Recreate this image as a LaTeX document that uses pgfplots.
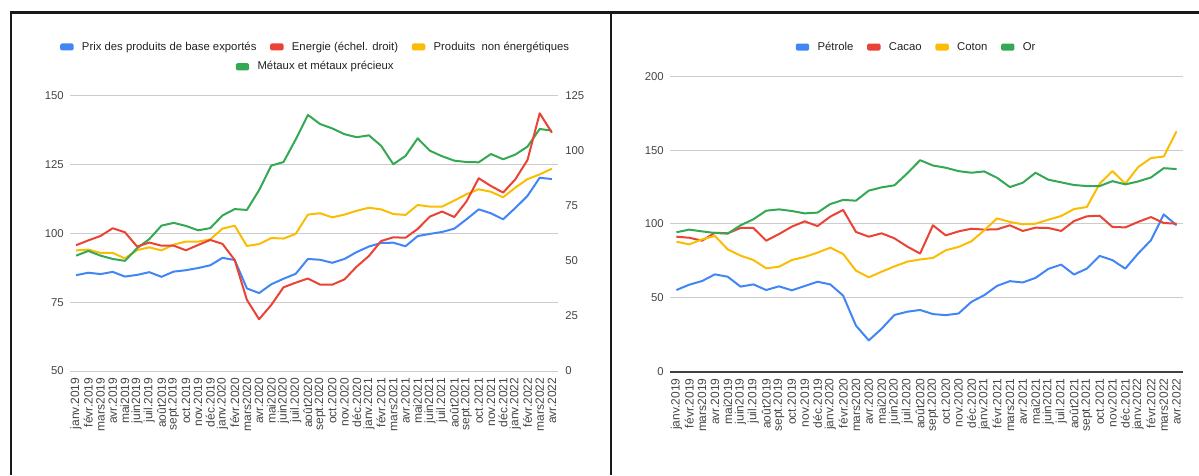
\documentclass[border=0pt]{standalone}
\usepackage{fontspec}
\setmainfont{Liberation Sans}
\usepackage{pgfplots}
\pgfplotsset{compat=1.18}
\usepackage{pgfplotstable}

\definecolor{gblue}{HTML}{4285F4}
\definecolor{gred}{HTML}{EA4335}
\definecolor{gyellow}{HTML}{FBBC04}
\definecolor{ggreen}{HTML}{34A853}
\definecolor{gridc}{HTML}{CCCCCC}
\definecolor{tickc}{HTML}{444444}
\definecolor{legc}{HTML}{222222}

\pgfplotstableread{
i prix energie produits metaux
0 84.8 57.1 93.8 91.9
1 85.7 59.3 94.1 93.6
2 85.2 61.3 92.9 91.9
3 86.0 64.8 92.9 90.7
4 84.3 63.0 90.9 90.0
5 84.9 56.5 93.9 94.6
6 85.9 58.3 94.9 97.9
7 84.2 56.9 93.8 102.8
8 86.1 56.9 95.9 103.8
9 86.6 54.8 97.0 102.7
10 87.4 57.2 97.0 101.1
11 88.4 59.5 97.8 101.9
12 91.1 57.7 101.7 106.5
13 90.3 50.4 102.8 108.8
14 80.0 32.3 95.4 108.5
15 78.3 23.5 96.1 115.7
16 81.5 30.0 98.3 124.6
17 83.5 38.0 98.1 125.9
18 85.3 40.1 99.8 134.1
19 90.7 42.0 106.8 143.0
20 90.4 39.2 107.3 139.7
21 89.3 39.2 105.8 138.1
22 90.7 41.6 106.8 136.0
23 93.2 47.4 108.2 134.9
24 95.2 52.2 109.3 135.6
25 96.5 59.0 108.7 131.8
26 96.6 60.7 107.0 125.1
27 95.3 60.5 106.7 128.1
28 99.0 64.5 110.3 134.5
29 99.8 70.1 109.7 130.0
30 100.5 72.4 109.7 128.0
31 101.7 69.9 111.9 126.4
32 105.1 77.0 114.2 125.9
33 108.7 87.5 116.0 125.8
34 107.3 84.0 115.1 128.8
35 105.1 81.0 113.1 126.9
36 109.2 87.0 116.6 128.6
37 113.6 95.8 119.7 131.5
38 120.2 117.0 121.4 137.9
39 119.7 108.2 123.5 137.3
}\lefttab

\pgfplotstableread{
i petrole cacao coton or
0 55.3 91.4 88.0 94.4
1 58.9 90.7 86.2 96.2
2 61.4 88.7 89.6 95.0
3 65.9 94.1 91.9 93.9
4 64.3 93.7 82.8 93.5
5 57.6 97.3 78.6 99.1
6 59.1 97.3 75.6 103.2
7 55.3 88.7 70.0 109.0
8 57.8 93.2 71.1 109.9
9 55.1 98.2 75.6 108.8
10 58.0 101.8 77.7 107.2
11 60.9 98.6 80.6 107.7
12 59.1 105.0 84.0 113.5
13 51.5 109.5 79.7 116.3
14 31.2 94.6 68.4 115.8
15 21.2 91.4 63.9 122.6
16 29.1 93.7 67.7 124.8
17 38.4 90.3 71.3 126.2
18 40.6 84.7 74.5 134.3
19 41.8 80.0 76.0 143.2
20 39.0 99.1 77.0 139.6
21 38.3 92.3 82.2 138.1
22 39.4 95.0 84.5 135.8
23 47.3 96.8 88.3 134.7
24 51.8 96.2 95.7 135.6
25 58.1 96.4 103.8 131.3
26 61.3 99.1 101.4 125.0
27 60.4 95.3 99.8 127.9
28 63.5 97.5 100.2 134.7
29 69.6 97.3 102.9 130.0
30 72.5 95.3 105.4 128.2
31 65.8 102.0 110.1 126.4
32 69.8 105.2 111.5 125.7
33 78.4 105.6 127.3 125.7
34 75.5 98.0 135.8 129.0
35 69.8 97.7 127.3 126.8
36 80.0 101.4 138.5 128.8
37 89.0 104.7 144.6 131.5
38 106.5 100.7 145.7 137.8
39 99.1 100.2 162.8 137.2
}\righttab

\pgfplotsset{
  common/.style={
    scale only axis,
    xmin=-0.5, xmax=39.5,
    xtick={0,...,39},
    xticklabels={janv.2019,févr.2019,mars2019,avr.2019,mai2019,juin2019,juil.2019,août2019,sept.2019,oct.2019,nov.2019,déc.2019,
                 janv.2020,févr.2020,mars2020,avr.2020,mai2020,juin2020,juil.2020,août2020,sept.2020,oct.2020,nov.2020,déc.2020,
                 janv.2021,févr.2021,mars2021,avr.2021,mai2021,juin2021,juil.2021,août2021,sept.2021,oct.2021,nov.2021,déc.2021,
                 janv.2022,févr.2022,mars2022,avr.2022},
    x tick label style={rotate=90, anchor=east, inner sep=0pt, font=\fontsize{9}{9}\selectfont, text=tickc},
    xticklabel shift=5pt,
    major tick length=0pt,
    tick style={draw=none},
    y tick label style={font=\fontsize{8.5}{9}\selectfont, text=tickc, inner sep=0pt},
    /pgf/number format/assume math mode=true,
    grid style={gridc, line width=0.75pt},
    legend image code/.code={\fill[rounded corners=0.6pt] (0pt,-1.9pt) rectangle (8.5pt,1.9pt);},
    legend style={draw=none, fill=none, font=\fontsize{8.5}{10}\selectfont, text=legc,
      nodes={inner xsep=6.3pt, inner ysep=1pt},
      /tikz/every even column/.append style={column sep=4pt}},
    every axis plot/.append style={line width=1.5pt, line join=round},
  }
}

\begin{document}
\begin{tikzpicture}
\useasboundingbox (0,0) rectangle (899.25pt,356.25pt);

% ---------- left panel, left scale ----------
\begin{axis}[common,
  at={(52.5pt,78pt)}, anchor=south west,
  width=366pt, height=206.5pt,
  ymin=50, ymax=150, ytick={50,75,100,125,150},
  ymajorgrids,
  axis line style={draw=none},
  yticklabel style={xshift=-4.5pt},
  legend columns=3,
  legend style={at={(0.51,1.177)}, anchor=center},
]
\addplot[color=gblue] table[x=i, y=prix] {\lefttab};
\addlegendentry{Prix des produits de base exportés}
\addlegendimage{color=gred}
\addlegendentry{Energie (échel. droit)}
\addplot[color=gyellow] table[x=i, y=produits] {\lefttab};
\addlegendentry{Produits\ \ non énergétiques}
\addplot[color=ggreen, forget plot] table[x=i, y=metaux] {\lefttab};
\end{axis}

% ---------- left panel, right scale (Energie) ----------
\begin{axis}[common,
  at={(52.5pt,78pt)}, anchor=south west,
  width=366pt, height=206.5pt,
  hide x axis,
  axis y line*=right,
  y axis line style={draw=none},
  ymin=0, ymax=125, ytick={0,25,50,75,100,125},
  yticklabel style={anchor=west, xshift=5.25pt},
  legend columns=1,
  legend style={at={(0.51,1.105)}, anchor=center},
]
\addplot[color=gred, forget plot] table[x=i, y=energie] {\lefttab};
\addlegendimage{color=ggreen}
\addlegendentry{Métaux et métaux précieux}
\end{axis}

% ---------- right panel ----------
\begin{axis}[common,
  at={(502.5pt,77.475pt)}, anchor=south west,
  width=384.75pt, height=221.55pt,
  ymin=0, ymax=200, ytick={0,50,100,150,200},
  ymajorgrids,
  axis x line*=bottom, axis y line*=left,
  x axis line style={draw=black!75, line width=1.5pt},
  y axis line style={draw=none},
  yticklabel style={xshift=-4.5pt},
  legend columns=4,
  legend style={at={(0.487,1.099)}, anchor=center},
]
\addplot[color=gblue] table[x=i, y=petrole] {\righttab};
\addlegendentry{Pétrole}
\addplot[color=gred] table[x=i, y=cacao] {\righttab};
\addlegendentry{Cacao}
\addplot[color=gyellow] table[x=i, y=coton] {\righttab};
\addlegendentry{Coton}
\addplot[color=ggreen] table[x=i, y=or] {\righttab};
\addlegendentry{Or}
\end{axis}

% frame lines
\draw[line width=2.1pt, black!90] (8.25pt,0pt) -- (8.25pt,346.9pt) -- (899.25pt,346.9pt);
\draw[line width=2.1pt, black!90] (458.25pt,0pt) -- (458.25pt,346.9pt);
\end{tikzpicture}
\end{document}
